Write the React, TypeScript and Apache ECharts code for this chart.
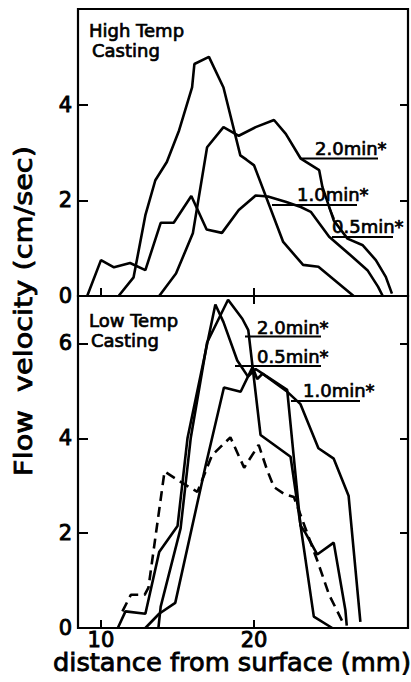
import React, { useEffect, useRef } from "react";
import * as echarts from "echarts";

// ---- data (x: distance mm, y: flow velocity cm/sec) ----
const hiTemp05: number[][] = [
  [9.1, 0], [10.0, 0.75], [10.85, 0.6], [11.9, 0.69], [12.9, 0.54], [13.9, 1.53],
  [14.75, 1.53], [15.9, 2.09], [16.9, 1.39], [17.9, 1.32], [19.0, 1.8], [20.1, 2.1],
  [20.9, 2.08], [22.05, 1.97], [23.05, 1.86], [23.7, 1.76], [24.9, 1.24], [26.3, 0.85],
  [27.4, 0.54], [28.1, 0.19], [28.4, 0],
];
const hiTemp10: number[][] = [
  [11.15, 0], [12.13, 0.39], [12.9, 1.69], [13.55, 2.42], [14.3, 2.8], [15.1, 3.46],
  [15.95, 4.36], [16.1, 4.85], [17.05, 5.0], [18.0, 4.36], [19.1, 2.94], [19.5, 2.85],
  [20.0, 2.73], [21.9, 1.13], [23.2, 0.65], [24.2, 0.61], [26.5, 0],
];
const hiTemp20: number[][] = [
  [13.8, 0], [14.9, 0.47], [16.0, 1.31], [16.93, 3.11], [18.0, 3.53], [19.0, 3.35],
  [20.1, 3.53], [21.3, 3.68], [22.07, 3.39], [23.05, 2.87], [24.25, 2.63], [24.46, 2.28],
  [25.2, 1.58], [26.1, 1.2], [27.1, 1.06], [27.95, 0.75], [28.6, 0.4], [29.0, 0.05],
];

const loTemp20: number[][] = [
  [13.75, 0], [13.9, 0.45], [15.2, 2.1], [15.86, 4.0], [16.93, 6.02], [18.3, 6.92],
  [19.23, 6.52], [19.62, 6.28], [20.42, 4.07], [22.38, 3.61], [23.9, 0.24], [25.1, 0],
];
const loTemp05: number[][] = [
  [11.1, 0], [11.6, 0.35], [12.9, 0.3], [13.8, 1.6], [15.0, 2.15], [15.65, 4.0],
  [17.47, 6.82], [18.0, 6.45], [18.9, 5.64], [19.6, 5.3], [20.1, 5.46], [20.75, 5.32],
  [22.16, 5.02], [23.03, 2.16], [23.36, 2.0], [24.12, 1.55], [25.2, 1.8], [25.96, 0.38],
  [26.05, 0.05],
];
const loTemp10: number[][] = [
  [12.9, 0], [13.8, 0.3], [14.85, 0.53], [16.84, 3.43], [18.03, 5.07], [19.12, 4.98],
  [19.9, 5.5], [20.2, 5.25], [20.55, 5.36], [22.1, 5.0], [23.03, 4.72], [24.2, 3.79],
  [25.2, 3.57], [26.17, 2.79], [26.94, 0.13],
];
const loTempDashed: number[][] = [
  [11.4, 0.35], [11.95, 0.7], [12.85, 0.7], [13.1, 0.85], [14.15, 3.3], [15.1, 3.1],
  [16.3, 2.87], [17.25, 3.64], [18.45, 4.02], [19.35, 3.38], [20.3, 3.86], [20.85, 3.33],
  [21.3, 2.97], [21.95, 2.83], [22.6, 2.76], [22.9, 2.5], [24.15, 1.4], [24.9, 0.7],
  [25.9, 0.05],
];

const xTicks = [10, 20];
const topYLabels = [0, 2, 4];
const topYTicks = [2, 4];
const botYLabels = [0, 2, 4, 6];
const botYTicks = [2, 4, 6];

const X_MIN = 8.5;
const X_MAX = 30.05;

const FONT = "DejaVu Sans";

export default function App() {
  const ref = useRef<HTMLDivElement>(null);

  useEffect(() => {
    document.body.style.margin = "0";
    const chart = echarts.init(ref.current!, null, { renderer: "svg" });

    const tick = (vals: number[], len = 8) => ({
      show: true,
      inside: true,
      length: len,
      lineStyle: { color: "#000", width: 2 },
      customValues: vals,
    });
    const noLabel = { show: false };
    const label = (vals: number[], size: number, margin: number) => ({
      show: true,
      customValues: vals,
      color: "#000",
      fontFamily: FONT,
      fontSize: size,
      margin,
      textBorderColor: "#000",
      textBorderWidth: 0.9,
    });

    const xBase = {
      type: "value",
      min: X_MIN,
      max: X_MAX,
      axisLine: { show: false },
      splitLine: { show: false },
    };
    const yBase = {
      type: "value",
      axisLine: { show: false },
      splitLine: { show: false },
    };

    const lineSeries = (data: number[][], xi: number, yi: number, dashed = false) => ({
      type: "line",
      data,
      xAxisIndex: xi,
      yAxisIndex: yi,
      symbol: "none",
      showSymbol: false,
      lineStyle: { color: "#000", width: 2.6, type: dashed ? [10, 6] : "solid" },
      silent: true,
    });

    const txt = (text: string, x: number, y: number, size: number, sw = 0.7) => ({
      type: "text",
      x,
      y,
      z: 100,
      style: {
        text,
        fill: "#000",
        stroke: "#000",
        lineWidth: sw,
        font: `${size}px "${FONT}"`,
        align: "left",
        verticalAlign: "middle",
      },
    });
    const ln = (x1: number, y1: number, x2: number, y2: number) => ({
      type: "line",
      z: 100,
      shape: { x1, y1, x2, y2 },
      style: { stroke: "#000", lineWidth: 2 },
    });

    chart.setOption({
      animation: false,
      backgroundColor: "#fff",
      grid: [
        { left: 78, top: 9, width: 330, height: 287, show: true, borderColor: "#000", borderWidth: 2.2, backgroundColor: "transparent" },
        { left: 78, top: 296, width: 330, height: 332, show: true, borderColor: "#000", borderWidth: 2.2, backgroundColor: "transparent" },
      ],
      xAxis: [
        { ...xBase, gridIndex: 0, position: "bottom", axisTick: tick(xTicks), axisLabel: noLabel },
        { ...xBase, gridIndex: 0, position: "top", axisTick: tick([20]), axisLabel: noLabel },
        { ...xBase, gridIndex: 1, position: "bottom", axisTick: tick(xTicks), axisLabel: label(xTicks, 21, 1) },
      ],
      yAxis: [
        { ...yBase, gridIndex: 0, min: 0, max: 6, position: "left", axisTick: tick(topYTicks, 10), axisLabel: label(topYLabels, 21, 6) },
        { ...yBase, gridIndex: 0, min: 0, max: 6, position: "right", axisTick: tick(topYTicks, 8), axisLabel: noLabel },
        { ...yBase, gridIndex: 1, min: 0, max: 7, position: "left", axisTick: tick(botYTicks, 10), axisLabel: label(botYLabels, 21, 6) },
        { ...yBase, gridIndex: 1, min: 0, max: 7, position: "right", axisTick: tick(botYTicks, 8), axisLabel: noLabel },
      ],
      series: [
        lineSeries(hiTemp05, 0, 0),
        lineSeries(hiTemp10, 0, 0),
        lineSeries(hiTemp20, 0, 0),
        lineSeries(loTemp20, 2, 2),
        lineSeries(loTemp05, 2, 2),
        lineSeries(loTemp10, 2, 2),
        lineSeries(loTempDashed, 2, 2, true),
      ],
      graphic: [
        txt("High Temp", 89, 30, 18),
        txt("Casting", 92, 50, 18),
        txt("Low Temp", 89, 320.5, 18),
        txt("Casting", 91, 340.5, 18),
        // top panel curve labels
        txt("2.0min*", 315, 148.5, 18),
        ln(301, 158.5, 378, 158.5),
        txt("1.0min*", 297, 194, 18),
        ln(272, 205, 357, 205),
        txt("0.5min*", 332, 226.5, 18),
        ln(332, 237, 393, 237),
        ln(329, 207, 334, 219),
        // bottom panel curve labels
        txt("2.0min*", 257, 327.5, 18),
        ln(245, 336.5, 321, 336.5),
        txt("0.5min*", 257, 356.5, 18),
        ln(235, 366, 321, 366),
        txt("1.0min*", 303, 390.5, 18),
        ln(291, 401, 360, 401),
        // axis titles
        {
          type: "text",
          x: 53,
          y: 663,
          scaleX: 1.07,
          z: 100,
          style: { text: "distance from surface (mm)", fill: "#000", stroke: "#000", lineWidth: 0.8, font: `24px "${FONT}"`, align: "left", verticalAlign: "middle" },
        },
        {
          type: "text",
          x: 23,
          y: 311,
          rotation: Math.PI / 2,
          scaleX: 1.15,
          z: 100,
          style: { text: "Flow  velocity (cm/sec)", fill: "#000", stroke: "#000", lineWidth: 0.8, font: `25px "${FONT}"`, align: "center", verticalAlign: "middle" },
        },
      ],
    });

    return () => chart.dispose();
  }, []);

  return <div ref={ref} style={{ width: 411, height: 682, position: "absolute", left: 0, top: 0 }} />;
}
